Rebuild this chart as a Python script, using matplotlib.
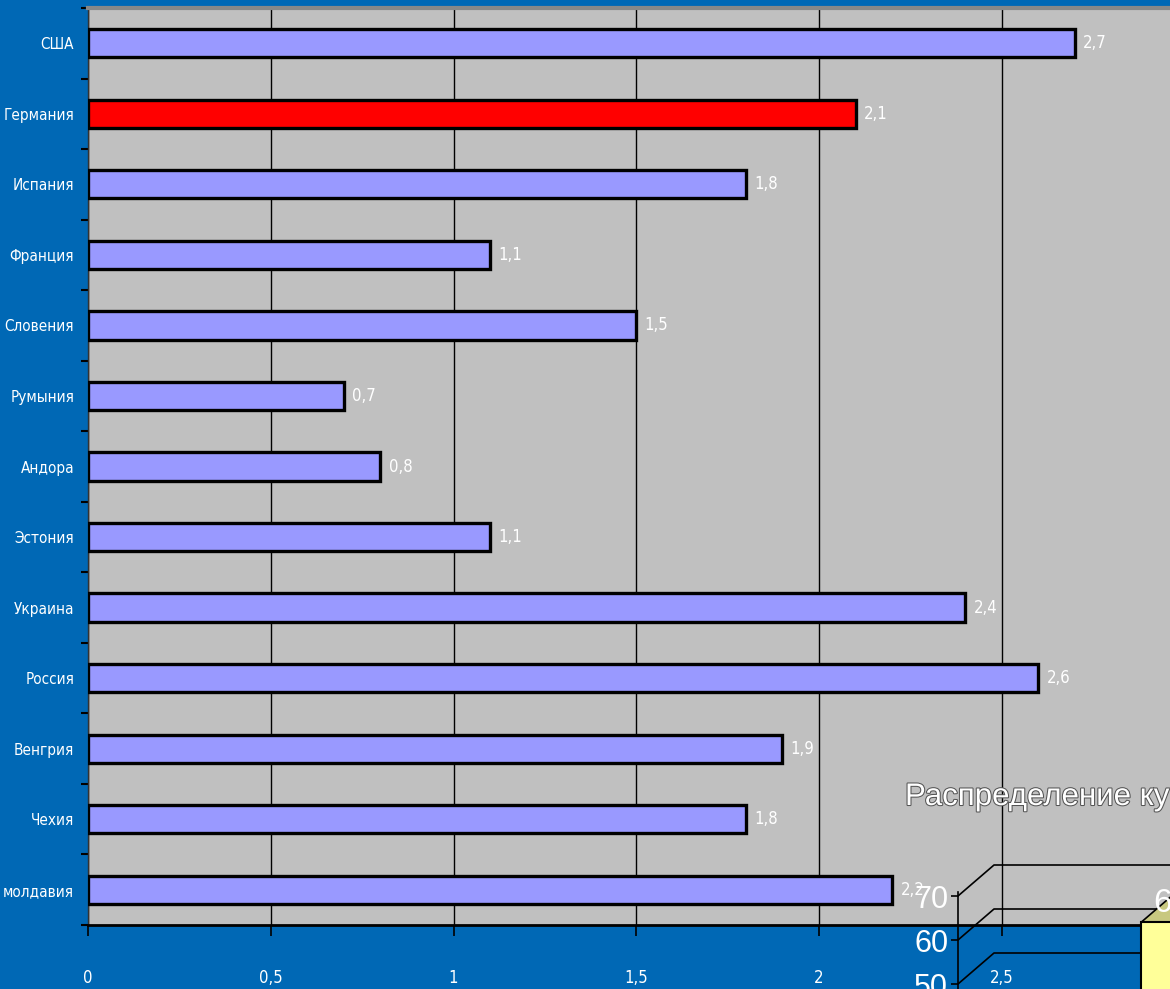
import numpy as np
import matplotlib
matplotlib.use('Agg')
import matplotlib.pyplot as plt
import matplotlib.patheffects as pe
from matplotlib.patches import Rectangle, Polygon

countries = ['США', 'Германия', 'Испания', 'Франция', 'Словения', 'Румыния', 'Андора',
             'Эстония', 'Украина', 'Россия', 'Венгрия', 'Чехия', 'молдавия']
values = [2.7, 2.1, 1.8, 1.1, 1.5, 0.7, 0.8, 1.1, 2.4, 2.6, 1.9, 1.8, 2.2]
highlight = 'Германия'
xticks = [0, 0.5, 1, 1.5, 2, 2.5]

# second (3d) chart peeking in at the bottom right
inset_title = 'Распределение ку'
inset_ticks = [50, 60, 70]
inset_value = 64

W, H = 1170, 989
blue = '#0068B5'
narrow = dict(family='DejaVu Sans', stretch='condensed')

fig = plt.figure(figsize=(W / 100, H / 100), dpi=100, facecolor=blue)

ax = fig.add_axes([88 / W, (H - 925) / H, 3 * 365.5 / W, 917 / H])
ax.set_facecolor('#C0C0C0')

y = np.arange(len(countries))
colors = ['#FF0000' if c == highlight else '#9999FF' for c in countries]
ax.barh(y, values, height=0.4, color=colors, edgecolor='black', linewidth=2.4, zorder=3)

for yi, v in zip(y, values):
    ax.annotate(f'{v:g}'.replace('.', ','), (v, yi), xytext=(6, 0), textcoords='offset points',
                ha='left', va='center', color='white', fontsize=12, zorder=4, **narrow)

ax.set_ylim(len(countries) - 0.5, -0.5)
ax.set_xlim(0, 3)
ax.set_yticks(y)
ax.set_yticklabels(countries, fontsize=11, color='white', **narrow)
ax.set_yticks(np.arange(len(countries) + 1) - 0.5, minor=True)
ax.tick_params(axis='y', which='major', length=0, pad=10)
ax.tick_params(axis='y', which='minor', length=5, width=1.5, color='black', direction='out')

ax.set_xticks(xticks)
ax.set_xticklabels([f'{t:g}'.replace('.', ',') for t in xticks], fontsize=12, color='white', **narrow)
ax.tick_params(axis='x', length=8, width=1.2, color='black', direction='out', pad=24)
ax.grid(axis='x', color='black', linewidth=1, zorder=1)

ax.spines['top'].set_color('#888888')
ax.spines['top'].set_linewidth(3)
ax.spines['right'].set_visible(False)
ax.spines['left'].set_color('#333333')
ax.spines['left'].set_linewidth(1)
ax.spines['bottom'].set_color('black')
ax.spines['bottom'].set_linewidth(2)

# partial 3d column chart overlaid on top
ov = fig.add_axes([958 / W, 0, 300 / W, 1], facecolor='none')
ppv = 4.4  # pixels per unit
lo = 60 - (H - 940) / ppv
ov.set_ylim(lo, 60 + 940 / ppv)
ov.set_xlim(0, 300)
dx, dv = 36, 31 / ppv
for s in ['top', 'right', 'bottom']:
    ov.spines[s].set_visible(False)
ov.spines['left'].set_bounds(lo, 70 + 4 / ppv)
ov.spines['left'].set_linewidth(1.2)
ov.set_xticks([])
ov.set_yticks(inset_ticks)
ov.set_yticklabels([str(t) for t in inset_ticks], color='white', fontsize=22, family='Liberation Sans')
ov.tick_params(axis='y', length=5, width=1.2, color='black', pad=2)
for t in inset_ticks:
    ov.plot([0, dx, 300], [t, t + dv, t + dv], color='black', linewidth=1.2, zorder=2)

bx = 1141 - 958
ov.add_patch(Polygon([(bx, inset_value), (bx + dx, inset_value + dv), (bx + dx + 80, inset_value + dv),
                      (bx + 80, inset_value)], closed=True, facecolor='#C8C880', edgecolor='black',
                     linewidth=1.2, zorder=4))
ov.add_patch(Rectangle((bx, lo - 5), 80, inset_value - lo + 5, facecolor='#FFFF99', edgecolor='black',
                       linewidth=1.5, zorder=5))
ov.text(bx + 12, inset_value + 4.3, str(inset_value), color='white', fontsize=24, family='Liberation Sans',
        ha='left', va='center', zorder=6, clip_on=False)

fig.text(905 / W, (H - 797) / H, inset_title, color='white', fontsize=22.5, family='Liberation Sans',
         ha='left', va='center',
         path_effects=[pe.withStroke(linewidth=1.5, foreground='#555555')])

fig.savefig('out.png', dpi=100, facecolor=blue)
